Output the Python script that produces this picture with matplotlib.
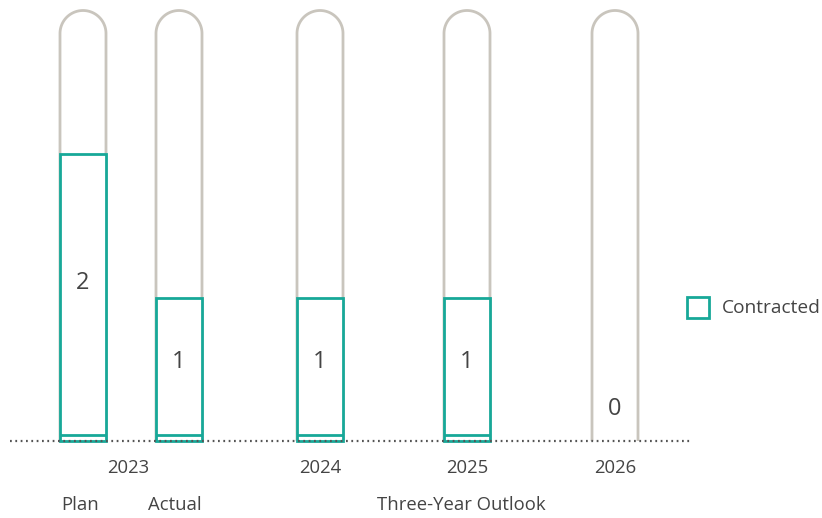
import matplotlib.pyplot as plt
from matplotlib.patches import Rectangle
import numpy as np

plt.rcParams['font.family'] = ['Open Sans', 'DejaVu Sans']

# data
bar_names = ["Plan", "Actual", "2024", "2025", "2026"]
contracted = [2, 1, 1, 1, 0]
capacity = 3
year_labels = ["2023", "2024", "2025", "2026"]
group_labels = ["Plan", "Actual", "Three-Year Outlook"]

TEAL = "#17a898"
GRAY = "#c9c5bd"
TXT = "#444444"

# layout (pixel coords on x, value units on y)
xpos = [83, 179, 320, 467, 615]
half_w = 23
px_per_unit = 143.5
base_px = 441

fig = plt.figure(figsize=(8.22, 5.18), dpi=100)
ax = fig.add_axes([0, 0, 1, 1])
ax.set_xlim(0, 822)
ax.set_ylim(-(518 - base_px) / px_per_unit, base_px / px_per_unit)
ax.axis("off")

r_y = half_w / px_per_unit
t = np.linspace(0, np.pi, 60)
for x, v in zip(xpos, contracted):
    # capsule outline
    arc_x = x + half_w * np.cos(t)
    arc_y = capacity - r_y + r_y * np.sin(t)
    px = np.concatenate([[x + half_w], arc_x, [x - half_w]])
    py = np.concatenate([[0], arc_y, [0]])
    ax.plot(px, py, color=GRAY, lw=2.0, solid_capstyle="butt", zorder=1)
    if v > 0:
        ax.add_patch(Rectangle((x - half_w, 0), 2 * half_w, v, facecolor="white",
                               edgecolor=TEAL, lw=2.0, zorder=2))
        ax.hlines(6 / px_per_unit, x - half_w, x + half_w, color=TEAL, lw=2.0, zorder=3)
    ly = v * 0.55 if v > 0 else 0.22
    ax.text(x, ly, str(v), ha="center", va="center", fontsize=17, color=TXT, zorder=4)

# dotted baseline
ax.plot([10, 690], [0, 0], color="#555555", lw=1.6, linestyle=(0, (0.8, 1.6)), zorder=5)

# year labels
year_x = [(xpos[0] + xpos[1]) / 2 - 3, xpos[2], xpos[3], xpos[4]]
for x, lab in zip(year_x, year_labels):
    ax.text(x, -27 / px_per_unit, lab, ha="center", va="center", fontsize=13.3, color=TXT)

group_x = [80, 175, 461]
for x, lab in zip(group_x, group_labels):
    ax.text(x, -64 / px_per_unit, lab, ha="center", va="center", fontsize=13.3, color=TXT)

# legend
ax.add_patch(Rectangle((687, (base_px - 318) / px_per_unit), 22, 21 / px_per_unit,
                       facecolor="white", edgecolor=TEAL, lw=2.0))
ax.text(722, (base_px - 308) / px_per_unit, "Contracted", ha="left", va="center",
        fontsize=13.8, color=TXT)

fig.savefig("out.png", dpi=100)
